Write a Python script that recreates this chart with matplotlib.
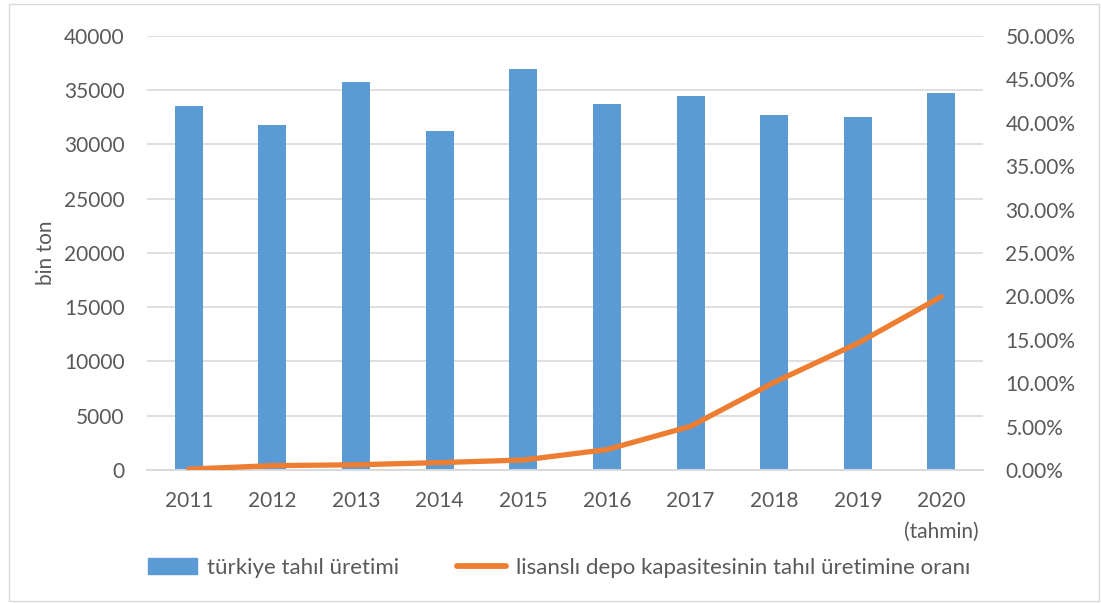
import matplotlib.pyplot as plt
import numpy as np
from matplotlib.patches import Rectangle
from matplotlib.lines import Line2D
from matplotlib.ticker import FuncFormatter

years = ["2011", "2012", "2013", "2014", "2015", "2016", "2017", "2018", "2019", "2020\n(tahmin)"]
production = [33550, 31760, 35800, 31200, 36950, 33700, 34480, 32690, 32560, 34780]
ratio = [0.001, 0.005, 0.006, 0.0085, 0.0115, 0.0235, 0.0503, 0.101, 0.146, 0.1997]

bar_label = "türkiye tahıl üretimi"
line_label = "lisanslı depo kapasitesinin tahıl üretimine oranı"

blue = "#5B9BD5"
orange = "#ED7D31"
gray_text = "#595959"

plt.rcParams["font.family"] = ["Lato", "DejaVu Sans"]

fig = plt.figure(figsize=(11.01, 6.03), dpi=100)
ax = fig.add_axes([0.1335, 0.2206, 0.7595, 0.7197])
ax2 = ax.twinx()

x = np.arange(len(years))
ax.bar(x, production, width=0.335, color=blue, zorder=2)
ax2.plot(x, ratio, color=orange, linewidth=3.8, solid_capstyle="round", zorder=3)

ax.set_xlim(-0.5, len(years) - 0.5)
ax.set_ylim(0, 40000)
ax.set_yticks(np.arange(0, 40001, 5000))
ax2.set_ylim(0, 0.5)
ax2.set_yticks(np.arange(0, 0.501, 0.05))
ax2.yaxis.set_major_formatter(FuncFormatter(lambda v, p: f"{v*100:.2f}%"))

ax.set_xticks(x)
ax.set_xticklabels(years, linespacing=1.7)
ax.grid(axis="y", color="#D9D9D9", linewidth=1.2, zorder=0)
ax.set_axisbelow(True)

for a in (ax, ax2):
    for s in ("top", "left", "right"):
        a.spines[s].set_visible(False)
    a.spines["bottom"].set_color("#D9D9D9")
    a.spines["bottom"].set_linewidth(1.2)
    a.tick_params(length=0, labelsize=15, colors=gray_text)
ax.tick_params(axis="y", pad=16)
ax.tick_params(axis="x", pad=15)
ax2.tick_params(axis="y", pad=16)

ax.set_ylabel("bin ton", fontsize=15, color=gray_text, labelpad=6)

handles = [Rectangle((0, 0), 1, 1, color=blue),
           Line2D([0], [0], color=orange, linewidth=4.2, solid_capstyle="round")]
fig.legend(handles, [bar_label, line_label], loc="center", bbox_to_anchor=(0.508, 0.058),
           ncol=2, frameon=False, fontsize=16, labelcolor=gray_text,
           handlelength=2.2, handletextpad=0.45, columnspacing=2.6)

fig.patches.append(Rectangle((0.008, 0.004), 0.99, 0.99, transform=fig.transFigure,
                             fill=False, edgecolor="#D9D9D9", linewidth=1))

fig.savefig("out.png", dpi=100)
